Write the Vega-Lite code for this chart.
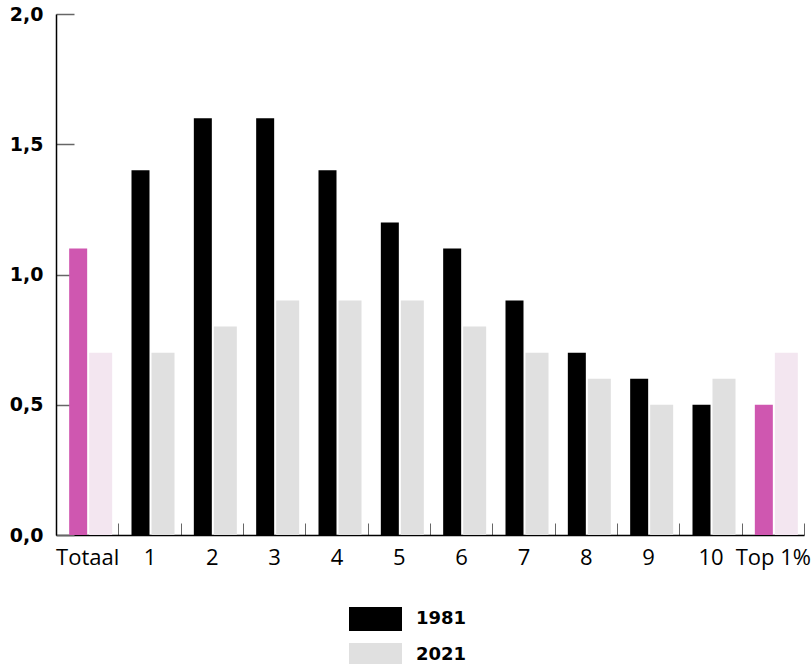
{
  "$schema": "https://vega.github.io/schema/vega-lite/v6.json",
  "autosize": "none",
  "width": 748,
  "height": 521,
  "padding": {"left": 56, "top": 14, "right": 8, "bottom": 129},
  "background": "white",
  "config": {"view": {"stroke": null}, "font": "Open Sans"},
  "data": {"values": [
    {"groep": "Totaal", "jaar": "1981", "waarde": 1.1},
    {"groep": "Totaal", "jaar": "2021", "waarde": 0.7},
    {"groep": "1", "jaar": "1981", "waarde": 1.4},
    {"groep": "1", "jaar": "2021", "waarde": 0.7},
    {"groep": "2", "jaar": "1981", "waarde": 1.6},
    {"groep": "2", "jaar": "2021", "waarde": 0.8},
    {"groep": "3", "jaar": "1981", "waarde": 1.6},
    {"groep": "3", "jaar": "2021", "waarde": 0.9},
    {"groep": "4", "jaar": "1981", "waarde": 1.4},
    {"groep": "4", "jaar": "2021", "waarde": 0.9},
    {"groep": "5", "jaar": "1981", "waarde": 1.2},
    {"groep": "5", "jaar": "2021", "waarde": 0.9},
    {"groep": "6", "jaar": "1981", "waarde": 1.1},
    {"groep": "6", "jaar": "2021", "waarde": 0.8},
    {"groep": "7", "jaar": "1981", "waarde": 0.9},
    {"groep": "7", "jaar": "2021", "waarde": 0.7},
    {"groep": "8", "jaar": "1981", "waarde": 0.7},
    {"groep": "8", "jaar": "2021", "waarde": 0.6},
    {"groep": "9", "jaar": "1981", "waarde": 0.6},
    {"groep": "9", "jaar": "2021", "waarde": 0.5},
    {"groep": "10", "jaar": "1981", "waarde": 0.5},
    {"groep": "10", "jaar": "2021", "waarde": 0.6},
    {"groep": "Top 1%", "jaar": "1981", "waarde": 0.5},
    {"groep": "Top 1%", "jaar": "2021", "waarde": 0.7}
  ]},
  "encoding": {
    "x": {
      "field": "groep", "type": "nominal", "sort": null,
      "scale": {"paddingInner": 0, "paddingOuter": 0},
      "axis": {
        "title": null, "labelAngle": 0, "tickBand": "extent", "tickSize": -12,
        "tickColor": "#666", "tickWidth": 1, "domainColor": "#000", "domainWidth": 1.5,
        "labelPadding": 24, "labelFontSize": 22, "labelColor": "#000", "labelFont": "Open Sans"
      }
    },
    "y": {
      "field": "waarde", "type": "quantitative",
      "scale": {"domain": [0, 2], "nice": false},
      "axis": {
        "title": null, "values": [0, 0.5, 1, 1.5, 2], "grid": false,
        "labelExpr": "replace(format(datum.value, '.1f'), '.', ',')",
        "tickSize": -18, "tickColor": "#666", "tickWidth": 1.5,
        "domainColor": "#000", "domainWidth": 1.5,
        "labelPadding": 31, "labelFontSize": 19, "labelFontWeight": "bold",
        "labelColor": "#000", "labelFont": "DejaVu Sans"
      }
    }
  },
  "layer": [
    {
      "transform": [{"filter": "datum.jaar === '1981'"}],
      "mark": {"type": "bar", "width": 18, "xOffset": -9},
      "encoding": {
        "color": {
          "condition": {"test": "datum.groep === 'Totaal' || datum.groep === 'Top 1%'", "value": "#cf57b0"},
          "field": "jaar", "type": "nominal",
          "scale": {"domain": ["1981", "2021"], "range": ["#000000", "#e0e0e0"]},
          "legend": {
            "title": null, "orient": "none", "legendX": 293, "legendY": 593,
            "direction": "vertical", "padding": 0,
            "symbolType": "M-1,-0.45H1V0.45H-1Z", "symbolSize": 2809,
            "symbolStrokeWidth": 0, "symbolOpacity": 1,
            "clipHeight": 24, "rowPadding": 12, "labelOffset": 14,
            "labelFontSize": 18, "labelFontWeight": "bold", "labelColor": "#000",
            "labelFont": "DejaVu Sans"
          }
        }
      }
    },
    {
      "transform": [{"filter": "datum.jaar === '2021'"}],
      "mark": {"type": "bar", "width": 23, "xOffset": 13.5},
      "encoding": {
        "color": {
          "condition": {"test": "datum.groep === 'Totaal' || datum.groep === 'Top 1%'", "value": "#f3e6f0"},
          "field": "jaar", "type": "nominal"
        }
      }
    }
  ]
}
